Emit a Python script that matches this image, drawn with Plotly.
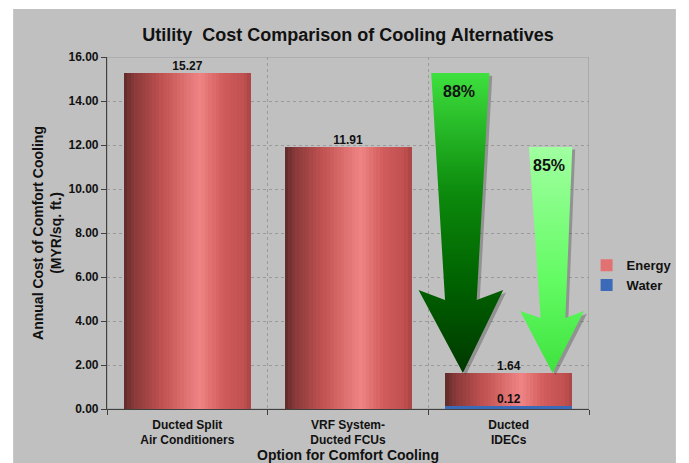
import plotly.graph_objects as go

categories = ["Ducted Split<br>Air Conditioners", "VRF System-<br>Ducted FCUs", "Ducted<br>IDECs"]
energy = [15.27, 11.91, 1.64]
water = [None, None, 0.12]
savings = ["88%", "85%"]
y_ticks = [0, 2, 4, 6, 8, 10, 12, 14, 16]

FONT = "Liberation Sans, Arial, sans-serif"
NARROW = "Liberation Sans Narrow, Arial Narrow, Liberation Sans, Arial, sans-serif"

xs = list(range(len(categories)))
BAR_W = 0.79
N = 36

def hex2rgb(h):
    h = h.lstrip('#')
    return tuple(int(h[i:i+2], 16) for i in (0, 2, 4))

stops = [(0.0, '#5e2a2a'), (0.08, '#8a3a3a'), (0.3, '#c25252'), (0.6, '#f08484'),
         (0.78, '#d25c5c'), (0.95, '#c05050'), (1.0, '#a84444')]

def grad(t):
    for (t0, c0), (t1, c1) in zip(stops[:-1], stops[1:]):
        if t0 <= t <= t1:
            a = (t - t0) / (t1 - t0) if t1 > t0 else 0
            r0, g0, b0 = hex2rgb(c0)
            r1, g1, b1 = hex2rgb(c1)
            return 'rgb(%d,%d,%d)' % (r0 + (r1 - r0) * a, g0 + (g1 - g0) * a, b0 + (b1 - b0) * a)
    return stops[-1][1]

fig = go.Figure()
sw = BAR_W / N
for i in range(N):
    t = (i + 0.5) / N
    fig.add_trace(go.Bar(
        x=xs, y=energy, width=[sw * 1.02] * len(xs), offset=-BAR_W / 2 + i * sw,
        marker=dict(color=grad(t), line=dict(width=0)),
        name="Energy", legendgroup="Energy", showlegend=(i == 24),
        hoverinfo="skip"))

fig.add_trace(go.Bar(
    x=xs, y=water, width=[BAR_W] * len(xs), name="Water",
    marker=dict(color='#3a6ab8', line=dict(width=0)), showlegend=True))

# value labels
fig.add_trace(go.Scatter(x=xs, y=energy, mode="text", text=["%.2f" % v for v in energy],
                         textposition="top center", showlegend=False,
                         textfont=dict(family=FONT, size=12, color="#111111", weight="bold")))
fig.add_trace(go.Scatter(x=xs, y=water, mode="text",
                         text=["" if v is None else "%.2f" % v for v in water],
                         textposition="top center", showlegend=False,
                         textfont=dict(family=FONT, size=12, color="#111111", weight="bold")))

# arrows from each alternative's cost down to the IDEC cost
arrow_shapes = [
    dict(xs=[1.518, 1.880, 1.801, 1.966, 1.715, 1.439, 1.604], shaft=4.95, wing=5.41,
         cs=[[0, '#003800'], [0.3, '#006200'], [0.6, '#0c8a0c'], [1, '#3ee03e']]),
    dict(xs=[2.126, 2.396, 2.353, 2.469, 2.273, 2.071, 2.199], shaft=4.14, wing=4.45,
         cs=[[0, '#3ee23e'], [0.4, '#62fb62'], [1, '#a0ffa0']]),
]
tip = energy[2]
for k, a in enumerate(arrow_shapes):
    top = energy[k]
    ys = [top, top, a["shaft"], a["wing"], tip, a["wing"], a["shaft"]]
    px = a["xs"] + [a["xs"][0]]
    py = ys + [ys[0]]
    fig.add_trace(go.Scatter(x=[v + 0.018 for v in px], y=[v - 0.12 for v in py], mode="lines",
                             fill="toself", fillcolor="rgba(60,60,60,0.35)",
                             line=dict(width=0), showlegend=False, hoverinfo="skip"))
    fig.add_trace(go.Scatter(x=px, y=py, mode="lines", fill="toself",
                             fillgradient=dict(type="vertical", colorscale=a["cs"], start=tip, stop=top),
                             line=dict(width=0), showlegend=False, hoverinfo="skip"))
    tx = (a["xs"][0] + a["xs"][1]) / 2 - 0.01
    fig.add_annotation(x=tx, y=top - 0.86, text="<b>%s</b>" % savings[k], showarrow=False,
                       font=dict(family=FONT, size=16, color="#111111"))

# background panel and plot border
fig.add_shape(type="rect", xref="paper", yref="paper", x0=-0.1947, x1=1.1803, y0=-0.1534, y1=1.1364,
              fillcolor="#c0c0c0", line=dict(width=0), layer="below")
fig.add_shape(type="rect", xref="x", yref="y", x0=-0.5, x1=2.5, y0=0, y1=16,
              line=dict(color="#9c9c9c", width=1.2), layer="below")

fig.update_layout(
    width=681, height=455,
    margin=dict(l=99, r=94, t=49, b=54),
    paper_bgcolor="white", plot_bgcolor="rgba(0,0,0,0)",
    barmode="overlay", bargap=0,
    title=dict(text="<b>Utility  Cost Comparison of Cooling Alternatives</b>", x=0.5, xref="paper",
               y=1 - 27 / 455, yanchor="middle", xanchor="center",
               font=dict(family=NARROW, size=18, color="#111111")),
    font=dict(family=FONT, color="#111111"),
    legend=dict(x=0.995, y=0.38, yanchor="middle", xanchor="left", bgcolor="rgba(0,0,0,0)",
                font=dict(family=FONT, size=13, color="#111111", weight="bold"), itemwidth=30,
                tracegroupgap=0),
    showlegend=True,
)
fig.update_xaxes(
    range=[-0.5, 2.5], tickvals=xs, ticktext=["<b>%s</b>" % c for c in categories],
    tickfont=dict(family=FONT, size=12, color="#111111"),
    ticks="outside", ticklen=4, tickcolor="rgba(0,0,0,0)",
    showgrid=False, showline=True, linecolor="#404040", linewidth=1.2, zeroline=False,
    minor=dict(tickvals=[-0.5, 0.5, 1.5, 2.5], ticks="outside", ticklen=5, tickcolor="#404040",
               showgrid=True, gridcolor="#9a9a9a", griddash="dot", gridwidth=1),
    title=dict(text="<b>Option for Comfort Cooling</b>", standoff=3,
               font=dict(family=FONT, size=14, color="#111111")),
    automargin=False, fixedrange=True,
)
fig.update_yaxes(
    range=[0, 16], tickvals=y_ticks, ticktext=["<b>%.2f</b>" % v for v in y_ticks],
    tickfont=dict(family=FONT, size=12, color="#111111"),
    ticks="outside", ticklen=5, tickcolor="#404040",
    showgrid=True, gridcolor="#9a9a9a", griddash="dot", gridwidth=1,
    showline=True, linecolor="#404040", linewidth=1.2, zeroline=False,
    title=dict(text="<b>Annual Cost of Comfort Cooling<br>(MYR/sq. ft.)</b>", standoff=3,
               font=dict(family=FONT, size=14, color="#111111")),
    automargin=False, fixedrange=True,
)

fig.write_html("out.html")
